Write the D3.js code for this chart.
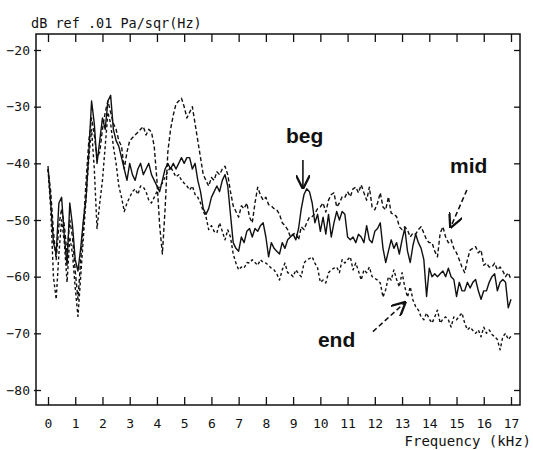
<!DOCTYPE html>
<html>
<head>
<meta charset="utf-8">
<script src="https://cdn.jsdelivr.net/npm/d3@7"></script>
<style>
    body { margin: 0; background: #fff; }
    svg text { font-family: "DejaVu Sans Mono", monospace; fill: #111; }
    svg .note { font-family: "Liberation Sans", Arial, sans-serif; font-weight: bold; }
</style>
</head>
<body>
<svg width="533" height="450"></svg>
<script>
// spectra, one value every 0.1 kHz from 0 to 17 kHz (dB ref .01 Pa/sqr(Hz))
var begValues = [
    -40.5,-47,-54,-56,-47,-46,-53,-58,-47,-51,
    -57,-59,-55,-50,-46,-38,-29,-33,-40,-36,
    -32,-34,-29,-28,-34,-36,-37,-39,-41,-43,
    -40,-42,-43,-41,-40,-42,-41,-40,-42,-43,
    -44,-45,-43,-41,-40,-41,-40,-41,-40,-39,
    -40,-39,-39,-41,-40,-43,-45,-48,-49,-48,
    -46,-45,-44,-45,-43,-42,-44,-49,-54,-55,
    -55.5,-53,-54,-52,-51.5,-53,-51.5,-52,-51,-50.5,
    -53,-56.5,-54,-55,-55.5,-56,-54,-55,-53.5,-53,
    -52.5,-53.5,-51.5,-48,-45.5,-44.5,-45,-47,-50.5,-49,
    -52,-49.5,-52.5,-49,-53,-50.5,-48.5,-50,-48.5,-49,
    -53,-53.5,-53,-54,-52.5,-53,-54,-51,-53.5,-54,
    -52,-51.5,-50.5,-55,-57.5,-55.5,-53.5,-55,-54,-56,
    -53.5,-51.5,-55.5,-57.5,-54.5,-52.5,-54,-55,-57,-63.5,
    -58.5,-60,-59.5,-60,-59.5,-59,-60,-58.5,-60,-60.5,
    -63.5,-61,-62.5,-62.5,-61,-62,-61,-60.5,-62.5,-64,
    -62.5,-62.5,-61,-60,-59.5,-62.5,-61,-60.5,-61,-65.5,
    -64
];
var midValues = [
    -41,-45,-52,-57,-51,-48,-51,-56,-50,-53,
    -59,-64,-57,-51,-43,-36,-32,-35,-39,-38,
    -34,-31,-29,-31,-33,-34,-36,-37,-41,-38,
    -36,-35.5,-35,-34.5,-34,-33.5,-35,-34,-34.5,-37,
    -43,-51,-56,-48,-38,-34,-31.5,-29.5,-29,-28.5,
    -30,-32,-31,-30,-33,-36,-39,-42,-43,-44,
    -42.5,-43,-41.5,-42,-41,-40.5,-42,-45,-47.5,-48.5,
    -49.5,-47.5,-48,-47,-49.5,-50.5,-47,-44.2,-45.6,-46.5,
    -46,-47.3,-47.5,-48,-48.2,-49,-50.5,-51,-51.7,-53,
    -52.5,-52.3,-53.5,-51.2,-51.7,-50.5,-49.5,-49.4,-48.8,-48,
    -47.7,-47,-48.6,-46.5,-45.5,-45.2,-47.7,-47,-45.9,-46,
    -45,-45.9,-44.5,-44.2,-45.2,-43.8,-45.2,-46.5,-44.2,-47.7,
    -48.2,-47,-45.2,-47.7,-48.2,-45.9,-48.8,-49,-49.4,-51.2,
    -51.7,-51.2,-51.8,-53,-52.3,-52.5,-51.7,-51.2,-52.3,-53.5,
    -54,-54,-55.5,-56.5,-52.3,-51.2,-53,-54,-53.5,-55,
    -55.8,-57,-58.3,-59.3,-57,-55.3,-55,-54.7,-55.8,-55.3,
    -58,-57.6,-58.3,-58.3,-57.6,-58.8,-58.3,-59,-60,-59.3,
    -60.5
];
var endValues = [
    -41,-48,-60,-64,-56,-50,-54,-61,-53,-56,
    -62,-67,-60,-53,-46,-39,-34,-41,-51.5,-47,
    -43,-37,-31,-33,-37,-40,-44,-46,-48.5,-47,
    -46,-45,-44.5,-45.5,-44,-44.2,-45,-46.5,-47,-46,
    -45,-44,-43.5,-42.4,-41.5,-40.6,-41.5,-42.4,-42,-43,
    -43.5,-44,-44.7,-44,-45.5,-46,-47,-48.5,-49.4,-51.7,
    -51,-52,-52.3,-50.5,-52,-53.5,-51.7,-53,-56,-57.6,
    -58.8,-58.3,-58.5,-57.5,-57.6,-57,-57.5,-58,-57,-57.5,
    -57.6,-58,-58.5,-58.8,-59.5,-60.6,-58.8,-57.6,-59.3,-59.5,
    -60,-58.8,-59.5,-60,-57.6,-57,-56.8,-56.5,-57.6,-58.5,
    -61,-60.6,-61.1,-59.3,-58.8,-58.5,-58.3,-59.3,-57,-57.6,
    -57,-56.5,-58.8,-57.6,-59,-60.6,-58.8,-59.3,-58.3,-60,
    -60.3,-60.6,-61.1,-63.6,-62.3,-60,-60.6,-58.8,-60.5,-61.8,
    -59.3,-61.8,-63.6,-61.8,-64.1,-65.3,-65.9,-67.1,-67.6,-66.4,
    -67.5,-68.2,-67.1,-65.9,-68.2,-67.5,-67.1,-67.6,-68.9,-67.1,
    -67.6,-67,-66.4,-68.2,-69.4,-68.9,-69.5,-70,-69.4,-70.6,
    -68.9,-70,-69.4,-70.2,-70.6,-71.1,-72.9,-70.6,-70,-71.1,
    -70.5
];
var xTicks = [0, 1, 2, 3, 4, 5, 6, 7, 8, 9, 10, 11, 12, 13, 14, 15, 16, 17];
var yTicks = [-20, -30, -40, -50, -60, -70, -80];
// labels and arrows, in kHz / dB
var notes = [
    {text: "beg", x: 8.74, y: -36.4, from: [9.36, -39.4], to: [9.36, -44.3], dashed: false},
    {text: "mid", x: 14.76, y: -41.7, from: [15.38, -44.7], to: [14.79, -51.2], dashed: true},
    {text: "end", x: 9.91, y: -72.4, from: [11.93, -69.7], to: [13.1, -64.6], dashed: true}
];


function drawChart() {
    var svg = d3.select("svg"),
        margin = {top: 34, right: 13, bottom: 45, left: 36},
        width = 533 - margin.left - margin.right,
        height = 450 - margin.top - margin.bottom,
        g = svg.append("g").attr("transform", "translate(" + margin.left + "," + margin.top + ")"),
        x = d3.scaleLinear().domain([0, 17]).range([12, 475]),
        y = d3.scaleLinear().domain([-20, -80]).range([16, 356]),
        freqs = d3.range(begValues.length).map(function(i) { return i / 10; });

    svg.append("defs").append("marker")
        .attr("id", "head")
        .attr("viewBox", "0 0 10 10")
        .attr("refX", 9)
        .attr("refY", 5)
        .attr("markerWidth", 9)
        .attr("markerHeight", 9)
        .attr("orient", "auto")
        .append("path")
            .attr("d", "M0,0 L10,5 L0,10")
            .attr("fill", "none")
            .attr("stroke", "#111")
            .attr("stroke-width", 1.6);

    // frame
    g.append("rect")
        .attr("width", width)
        .attr("height", height)
        .attr("fill", "none")
        .attr("stroke", "#111")
        .attr("stroke-width", 1.5);

    // bottom axis, ticks pointing up, plus the same ticks on top
    g.append("g")
        .attr("transform", "translate(0," + height + ")")
        .call(d3.axisBottom(x).tickValues(xTicks).tickSize(-8).tickPadding(14).tickFormat(d3.format("d")))
        .call(function(a) {
            a.select(".domain").remove();
            a.selectAll("line").attr("stroke", "#111").attr("stroke-width", 1.3);
            a.selectAll("text").attr("font-size", 13).attr("font-family", null);
        });
    g.append("g")
        .call(d3.axisTop(x).tickValues(xTicks).tickSize(-8).tickFormat(""))
        .call(function(a) {
            a.select(".domain").remove();
            a.selectAll("line").attr("stroke", "#111").attr("stroke-width", 1.3);
        });

    // left axis with labels, right axis ticks only
    g.append("g")
        .call(d3.axisLeft(y).tickValues(yTicks).tickSize(-5).tickPadding(6))
        .call(function(a) {
            a.select(".domain").remove();
            a.selectAll("line").attr("stroke", "#111").attr("stroke-width", 1.3).attr("x1", -2);
            a.selectAll("text").attr("font-size", 13).attr("font-family", null);
        });
    g.append("g")
        .attr("transform", "translate(" + width + ",0)")
        .call(d3.axisRight(y).tickValues(yTicks).tickSize(-6).tickFormat(""))
        .call(function(a) {
            a.select(".domain").remove();
            a.selectAll("line").attr("stroke", "#111").attr("stroke-width", 1.3);
        });

    svg.append("text")
        .attr("x", 31)
        .attr("y", 28)
        .attr("font-size", 13.5)
        .text("dB ref .01 Pa/sqr(Hz)");
    svg.append("text")
        .attr("x", 531)
        .attr("y", 446)
        .attr("text-anchor", "end")
        .attr("font-size", 14)
        .text("Frequency (kHz)");

    var line = d3.line()
        .x(function(d, i) { return x(freqs[i]); })
        .y(function(d) { return y(d); });

    var series = [
        {values: endValues, dash: "3,2.5"},
        {values: midValues, dash: "4,2.5"},
        {values: begValues, dash: null}
    ];
    series.forEach(function(s) {
        g.append("path")
            .datum(s.values)
            .attr("fill", "none")
            .attr("stroke", "#111")
            .attr("stroke-width", 1.4)
            .attr("stroke-linejoin", "round")
            .attr("stroke-dasharray", s.dash)
            .attr("d", line);
    });

    notes.forEach(function(n) {
        g.append("text")
            .attr("class", "note")
            .attr("x", x(n.x))
            .attr("y", y(n.y))
            .attr("font-size", 21)
            .text(n.text);
        g.append("line")
            .attr("x1", x(n.from[0]))
            .attr("y1", y(n.from[1]))
            .attr("x2", x(n.to[0]))
            .attr("y2", y(n.to[1]))
            .attr("stroke", "#111")
            .attr("stroke-width", 1.6)
            .attr("stroke-dasharray", n.dashed ? "5,3" : null)
            .attr("marker-end", "url(#head)");
    });
}

drawChart();
</script>
</body>
</html>
